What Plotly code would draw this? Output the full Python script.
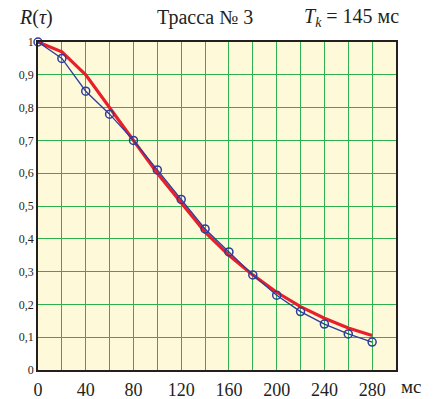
import plotly.graph_objects as go

tau = [0, 20, 40, 60, 80, 100, 120, 140, 160, 180, 200, 220, 240, 260, 280]
r_measured = [1.0, 0.95, 0.85, 0.78, 0.70, 0.61, 0.52, 0.43, 0.36, 0.29, 0.228, 0.178, 0.14, 0.11, 0.085]
r_model = [1.0, 0.97, 0.90, 0.80, 0.70, 0.60, 0.51, 0.42, 0.35, 0.29, 0.237, 0.193, 0.158, 0.128, 0.105]

x_ticks = [0, 40, 80, 120, 160, 200, 240, 280]
x_labels = [str(v) for v in x_ticks]
y_ticks = [i / 10 for i in range(11)]
y_labels = ["0", "0,1", "0,2", "0,3", "0,4", "0,5", "0,6", "0,7", "0,8", "0,9", "1"]

fig = go.Figure()
fig.add_trace(go.Scatter(x=tau, y=r_model, mode="lines",
                         line=dict(color="#E8202A", width=3.2), showlegend=False))
fig.add_trace(go.Scatter(x=tau, y=r_measured, mode="lines+markers",
                         line=dict(color="#2E3C9C", width=1.3),
                         marker=dict(symbol="circle-open", size=8, color="#2E3C9C",
                                     line=dict(width=1.5)),
                         showlegend=False, cliponaxis=False))

font = "Times New Roman, Liberation Serif, serif"
grid = "#2DB04E"
fig.update_layout(
    width=436, height=399,
    margin=dict(l=38, r=40, t=42, b=29),
    paper_bgcolor="white", plot_bgcolor="#FEF9D8",
    font=dict(family=font, color="#231F20"),
    xaxis=dict(range=[0, 300], tickvals=x_ticks, ticktext=x_labels,
               showgrid=True, gridcolor=grid, gridwidth=1.3,
               minor=dict(dtick=20, tick0=0, showgrid=True, gridcolor=grid, gridwidth=1.3),
               zeroline=False, showline=True, linecolor="#231F20", linewidth=1.5,
               mirror=True, ticks="", ticklabelstandoff=3, automargin=False,
               tickfont=dict(size=18, family=font)),
    yaxis=dict(range=[0, 1], tickvals=y_ticks, ticktext=y_labels,
               showgrid=True, gridcolor=grid, gridwidth=1.3,
               zeroline=False, showline=True, linecolor="#231F20", linewidth=1.5,
               mirror=True, ticks="", automargin=False,
               tickfont=dict(size=12, family=font)),
)

pw = 436 - 38 - 40
ph = 399 - 42 - 29


def px(x, y):
    return (x - 38) / pw, (399 - 29 - y) / ph


anns = [
    ("<i>R</i>(<i>τ</i>)", 17, 17, "left", 20),
    ("Трасса № 3", 205, 17, "center", 20),
    ("<i>T</i><sub><i>k</i></sub> = 145 мс", 302, 17, "left", 20),
    ("мс", 411, 386, "center", 19),
]
for text, x, y, xa, sz in anns:
    ax, ay = px(x, y)
    fig.add_annotation(text=text, x=ax, y=ay, xref="paper", yref="paper",
                       showarrow=False, font=dict(size=sz, family=font),
                       xanchor=xa, yanchor="middle")

fig.write_html("out.html")
